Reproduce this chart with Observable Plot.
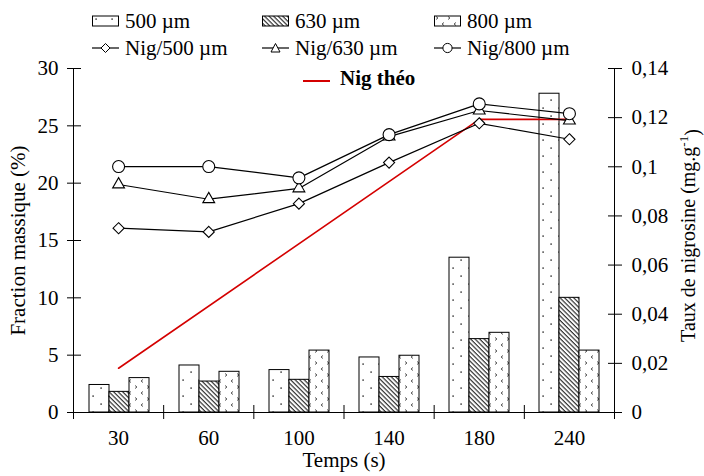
<!DOCTYPE html>
<html><head><meta charset="utf-8">
<script src="https://cdn.jsdelivr.net/npm/d3@7"></script>
<script src="https://cdn.jsdelivr.net/npm/@observablehq/plot@0.6"></script>
<style>
body{margin:0;background:#fff;font-family:"Times New Roman","Liberation Serif",Tinos,Times,"DejaVu Serif",serif;}
#wrap{position:relative;width:704px;height:476px;overflow:hidden;}
.layer{position:absolute;left:0;top:0;}
.leg{position:absolute;font-size:21px;line-height:22px;height:22px;white-space:nowrap;display:flex;align-items:center;color:#000;}
.leg svg{display:block;margin-right:5px;}
</style></head><body>
<svg width="0" height="0" style="position:absolute">
<defs>
<pattern id="p500" patternUnits="userSpaceOnUse" width="16" height="16">
 <rect width="16" height="16" fill="#fff"/>
 <rect x="3.4" y="3.4" width="1.4" height="1.4" fill="#222"/>
 <rect x="11.4" y="11.4" width="1.4" height="1.4" fill="#222"/>
</pattern>
<pattern id="p630" patternUnits="userSpaceOnUse" width="3.2" height="3.2" patternTransform="rotate(-45)">
 <rect width="3.2" height="3.2" fill="#fff"/>
 <line x1="1" y1="0" x2="1" y2="3.2" stroke="#333" stroke-width="1.2"/>
</pattern>
<pattern id="p800" patternUnits="userSpaceOnUse" width="12" height="12">
 <rect width="12" height="12" fill="#fff"/>
 <path d="M2,1.5 l2,1.5 l-2,1.5" fill="none" stroke="#444" stroke-width="0.9"/>
 <path d="M10,7.5 l-2,1.5 l2,1.5" fill="none" stroke="#444" stroke-width="0.9"/>
</pattern>
</defs></svg>
<div id="wrap">
  <div id="a" class="layer"></div>
  <div id="b" class="layer"></div>
</div>
<script>
// ---- data ----
const times = [30, 60, 100, 140, 180, 240];
const sizes = ["500 µm", "630 µm", "800 µm"];
const frac500 = [2.4, 4.1, 3.7, 4.8, 13.5, 27.8];
const frac630 = [1.8, 2.7, 2.85, 3.1, 6.4, 10.0];
const frac800 = [3.0, 3.55, 5.4, 4.95, 6.95, 5.4];
const nig500 = [0.075, 0.0735, 0.085, 0.1017, 0.1177, 0.1112];
const nig630 = [0.0928, 0.0868, 0.0912, 0.1123, 0.1229, 0.1188];
const nig800 = [0.1001, 0.1001, 0.0955, 0.1131, 0.1256, 0.1216];
const theoTimes = [30, 180, 240];
const theoValues = [0.018, 0.1193, 0.1193];
const leftTicks = [0, 5, 10, 15, 20, 25, 30];
const rightTicks = [0, 0.02, 0.04, 0.06, 0.08, 0.1, 0.12, 0.14];
const patternFills = ["url(#p500)", "url(#p630)", "url(#p800)"];
const nigSymbols = ["diamond2", "triangle", "circle"];
const nigRadius = [5, 4.4, 6];

const fracSeries = [frac500, frac630, frac800];
const nigSeries = [nig500, nig630, nig800];

const barData = times.flatMap((t, i) => sizes.map((s, k) => ({time: t, size: s, value: fracSeries[k][i]})));

const FONT = '"Times New Roman","Liberation Serif",Tinos,Times,"DejaVu Serif",serif';
const common = {
  width: 704, height: 476,
  marginTop: 68, marginRight: 90, marginBottom: 64, marginLeft: 73,
  style: {fontFamily: FONT, fontSize: "21px", background: "transparent", color: "#000"}
};

// ---- bars layer ----
const plotA = Plot.plot({
  ...common,
  facet: {data: barData, x: "time"},
  fx: {domain: times, paddingInner: 0, paddingOuter: 0, axis: null, label: null},
  x: {domain: sizes, paddingInner: 0, paddingOuter: 0.72, axis: null, label: null},
  y: {domain: [0, 30], axis: null},
  color: {type: "ordinal", domain: sizes, range: patternFills},
  marks: [
    Plot.barY(barData, {x: "size", y: "value", fill: "size", stroke: "#000", strokeWidth: 1}),
    Plot.axisY({ticks: leftTicks, tickSize: 7, tickPadding: 9, label: null}),
    Plot.axisY({ticks: leftTicks, tickSize: -7, tickFormat: () => "", label: null})
  ]
});
document.getElementById("a").append(plotA);

// ---- axes & lines layer ----
const pos = t => times.indexOf(t) + 0.5;
const marks = [
  Plot.ruleX([0, times.length], {stroke: "#000", strokeWidth: 1}),
  Plot.ruleY([0], {stroke: "#000", strokeWidth: 1}),
  Plot.axisX({ticks: d3.range(times.length + 1), tickSize: 7, tickFormat: () => "", label: null}),
  Plot.axisX({ticks: d3.range(times.length + 1), tickSize: -7, tickFormat: () => "", label: null}),
  Plot.axisX({ticks: times.map(pos), tickSize: 0, tickPadding: 18, tickFormat: d => times[Math.floor(d)], label: null}),
  Plot.axisY({anchor: "right", ticks: rightTicks, tickSize: 7, tickPadding: 10, tickFormat: d => String(d).replace(".", ","), label: null}),
  Plot.axisY({anchor: "right", ticks: rightTicks, tickSize: -7, tickFormat: () => "", label: null}),
  Plot.text(["Fraction massique (%)"], {frameAnchor: "left", textAnchor: "middle", dx: -55, rotate: -90, fontSize: 21}),
  Plot.text(["Taux de nigrosine (mg.g-1)"], {frameAnchor: "right", textAnchor: "middle", dx: 74, dy: -5, rotate: -90, fontSize: 20}),
  Plot.text(["Temps (s)"], {frameAnchor: "bottom", dy: 54, fontSize: 21}),
  Plot.line(theoTimes, {x: pos, y: (d, i) => theoValues[i], stroke: "#d40000", strokeWidth: 1.6})
];
nigSeries.forEach((vals, k) => {
  marks.push(Plot.line(times, {x: pos, y: (d, i) => vals[i], stroke: "#000", strokeWidth: 1.2}));
});
nigSeries.forEach((vals, k) => {
  marks.push(Plot.dot(times, {x: pos, y: (d, i) => vals[i], symbol: nigSymbols[k], r: nigRadius[k], fill: "#fff", stroke: "#000", strokeWidth: 1.1}));
});
const plotB = Plot.plot({
  ...common,
  x: {type: "linear", domain: [0, times.length], axis: null},
  y: {domain: [0, 0.14], axis: null},
  marks
});
document.getElementById("b").append(plotB);

// superscript in the right title
d3.select(plotB).selectAll("text").each(function() {
  if (this.textContent === "Taux de nigrosine (mg.g-1)") {
    const t = d3.select(this);
    t.text("");
    t.append("tspan").text("Taux de nigrosine (mg.g");
    t.append("tspan").attr("dy", "-0.55em").attr("font-size", "13px").text("-1");
    t.append("tspan").attr("dy", "0.55em").text(")");
  }
});

// ---- legend (HTML) ----
const wrap = document.getElementById("wrap");
const legCols = [92, 262, 434];
function addLeg(left, cy, svgHtml, label, bold) {
  const d = document.createElement("div");
  d.className = "leg";
  d.style.left = left + "px";
  d.style.top = (cy - 11) + "px";
  d.innerHTML = svgHtml + `<span style="${bold ? "font-weight:bold" : ""}">${label}</span>`;
  wrap.append(d);
}
sizes.forEach((s, k) => {
  addLeg(legCols[k], 21,
    `<svg width="28" height="12"><rect x="0.5" y="1" width="26" height="10" fill="${patternFills[k]}" stroke="#000" stroke-width="1"/></svg>`, s);
});
const legendMarker = [
  `<path d="M13.5,1.5 L18,6 L13.5,10.5 L9,6 Z" fill="#fff" stroke="#000"/>`,
  `<path d="M13.5,1.5 L18,10 L9,10 Z" fill="#fff" stroke="#000"/>`,
  `<circle cx="13.5" cy="6" r="4.6" fill="#fff" stroke="#000"/>`
];
sizes.forEach((s, k) => {
  addLeg(legCols[k], 48,
    `<svg width="28" height="12"><line x1="0" y1="6" x2="27" y2="6" stroke="#000" stroke-width="1.2"/>${legendMarker[k]}</svg>`, "Nig/" + s);
});
addLeg(303, 78, `<svg width="32" height="12"><line x1="0" y1="9" x2="27" y2="9" stroke="#d40000" stroke-width="2"/></svg>`, "Nig théo", true);
</script>
</body></html>
